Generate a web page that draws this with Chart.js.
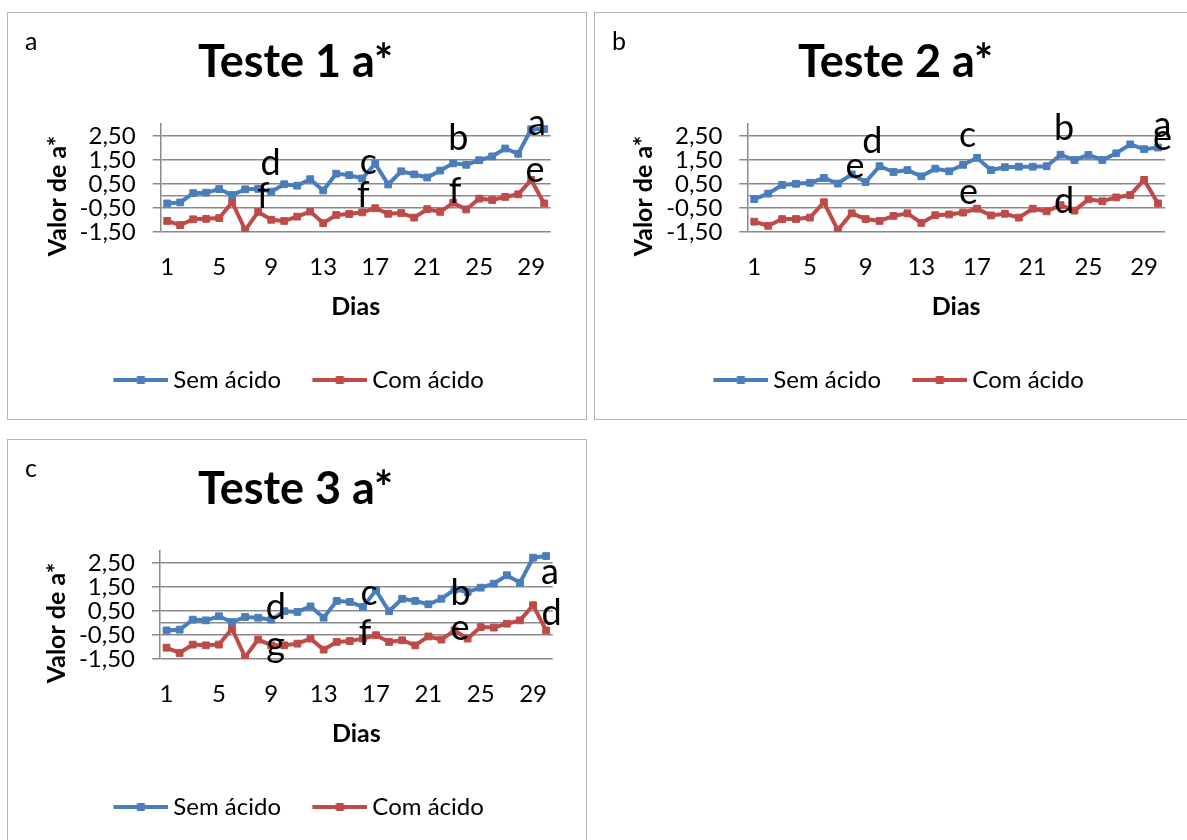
<!DOCTYPE html>
<html>
<head>
<meta charset="utf-8">
<script src="https://cdn.jsdelivr.net/npm/chart.js@4.4.0/dist/chart.umd.min.js"></script>
<style>
  body { margin: 0; background: #fff; width: 1187px; height: 840px; overflow: hidden; position: relative; }
  .panel { position: absolute; border: 1px solid #b4b4b4; background: #fff; overflow: hidden; }
  .panel canvas { position: absolute; left: 0; top: 0; }
</style>
</head>
<body>
<div class="panel" style="left:7px;top:12px;width:578px;height:406px"><canvas id="chartA" width="578" height="406"></canvas></div>
<div class="panel" style="left:594px;top:12px;width:601px;height:406px"><canvas id="chartB" width="601" height="406"></canvas></div>
<div class="panel" style="left:7px;top:439px;width:578px;height:406px"><canvas id="chartC" width="578" height="406"></canvas></div>
<script>
// Days and axis ticks
const days = [1, 2, 3, 4, 5, 6, 7, 8, 9, 10, 11, 12, 13, 14, 15, 16, 17, 18, 19, 20, 21, 22, 23, 24, 25, 26, 27, 28, 29, 30];
const xTicks = [1, 5, 9, 13, 17, 21, 25, 29];
const yTicks = [-1.5, -0.5, 0, 0.5, 1.5, 2.5];

// Teste 1
const semA = [-0.31, -0.27, 0.12, 0.14, 0.29, 0.04, 0.28, 0.30, 0.18, 0.49, 0.43, 0.70, 0.23, 0.93, 0.87, 0.73, 1.35, 0.48, 1.03, 0.90, 0.77, 1.06, 1.36, 1.30, 1.49, 1.65, 1.98, 1.76, 2.78, 2.79];
const comA = [-1.04, -1.21, -0.97, -0.95, -0.92, -0.26, -1.42, -0.66, -0.99, -1.04, -0.86, -0.65, -1.13, -0.79, -0.75, -0.68, -0.51, -0.74, -0.71, -0.90, -0.55, -0.66, -0.28, -0.56, -0.11, -0.17, -0.04, 0.07, 0.67, -0.31];
const lettersA = [['d', 8.96, 0.88], ['f', 8.39, -0.51], ['c', 16.47, 0.92], ['f', 16.08, -0.45], ['b', 23.39, 1.92], ['f', 23.14, -0.30], ['a', 29.45, 2.56], ['e', 29.29, 0.60]];

// Teste 2
const semB = [-0.13, 0.10, 0.46, 0.51, 0.55, 0.75, 0.52, 0.90, 0.58, 1.24, 1.00, 1.08, 0.82, 1.14, 1.03, 1.30, 1.59, 1.08, 1.20, 1.22, 1.22, 1.24, 1.72, 1.50, 1.71, 1.50, 1.78, 2.15, 1.95, 2.02];
const comB = [-1.07, -1.24, -0.96, -0.96, -0.90, -0.26, -1.42, -0.72, -0.96, -1.04, -0.83, -0.72, -1.12, -0.80, -0.77, -0.69, -0.53, -0.81, -0.74, -0.90, -0.53, -0.64, -0.38, -0.61, -0.14, -0.22, -0.06, 0.04, 0.67, -0.31];
const lettersB = [['e', 8.24, 0.74], ['d', 9.48, 1.78], ['c', 16.33, 2.05], ['e', 16.38, -0.35], ['b', 23.25, 2.33], ['d', 23.25, -0.72], ['a', 30.32, 2.47], ['e', 30.32, 1.92]];

// Teste 3
const semC = [-0.31, -0.28, 0.14, 0.11, 0.28, 0.04, 0.25, 0.22, 0.14, 0.49, 0.46, 0.69, 0.22, 0.92, 0.88, 0.67, 1.36, 0.49, 1.01, 0.92, 0.78, 1.01, 1.39, 1.29, 1.47, 1.64, 1.99, 1.68, 2.72, 2.79];
const comC = [-1.03, -1.25, -0.90, -0.93, -0.90, -0.24, -1.42, -0.69, -0.93, -0.93, -0.86, -0.65, -1.11, -0.79, -0.75, -0.65, -0.51, -0.79, -0.72, -0.93, -0.56, -0.69, -0.31, -0.65, -0.17, -0.19, -0.03, 0.11, 0.74, -0.31];
const lettersC = [['d', 9.34, 0.18], ['g', 9.34, -1.42], ['c', 16.47, 0.74], ['f', 16.16, -0.93], ['b', 23.47, 0.74], ['e', 23.42, -0.72], ['a', 30.29, 1.64], ['d', 30.42, -0.10]];

const BLUE = '#4a7ebb';
const RED = '#be4b48';
const GRID = '#8a8a8a';
const FONT = 'Lato';
const ICON_BOX = 54;

// Excel-like legend symbol: a line with a square marker in the middle
function legendIcon(color) {
    const c = document.createElement('canvas');
    c.width = ICON_BOX + 14;
    c.height = 14;
    const g = c.getContext('2d');
    const x0 = ICON_BOX - 41, x1 = ICON_BOX + 14;
    g.strokeStyle = color;
    g.lineWidth = 4;
    g.beginPath();
    g.moveTo(x0, 7);
    g.lineTo(x1, 7);
    g.stroke();
    g.fillStyle = color;
    const mid = (x0 + x1) / 2;
    g.fillRect(mid - 4, 3, 8, 8);
    return c;
}
const icons = [legendIcon(BLUE), legendIcon(RED)];

// panel letter, significance letters and the y axis title
const lettersPlugin = {
    id: 'letters',
    afterDraw(chart, args, opts) {
        const {ctx, chartArea, scales: {x, y}} = chart;
        ctx.save();
        ctx.fillStyle = '#000';
        ctx.textBaseline = 'alphabetic';
        ctx.textAlign = 'left';
        ctx.font = '25px ' + FONT;
        ctx.fillText(opts.tag, 17, 37);
        ctx.textAlign = 'center';
        ctx.font = '36px ' + FONT;
        opts.marks.forEach(m => {
            ctx.fillText(m[0], x.getPixelForValue(m[1]), y.getPixelForValue(m[2]));
        });
        ctx.translate(chartArea.left - 103, chartArea.top + 72);
        ctx.rotate(-Math.PI / 2);
        ctx.textBaseline = 'middle';
        ctx.font = 'bold 25px ' + FONT;
        ctx.fillText('Valor de a*', 0, 0);
        ctx.restore();
    }
};

function makePanel(id, title, sem, com, marks, tag, pad) {
    const ctx = document.getElementById(id).getContext('2d');
    return new Chart(ctx, {
        type: 'line',
        data: {
            labels: days,
            datasets: [{
                label: 'Sem ácido',
                data: sem,
                borderColor: BLUE,
                backgroundColor: BLUE,
                borderWidth: 4,
                pointStyle: 'rect',
                pointRadius: 4.8,
                pointBorderWidth: 1,
                tension: 0
            }, {
                label: 'Com ácido',
                data: com,
                borderColor: RED,
                backgroundColor: RED,
                borderWidth: 4,
                pointStyle: 'rect',
                pointRadius: 4.8,
                pointBorderWidth: 1,
                tension: 0
            }]
        },
        options: {
            responsive: false,
            animation: false,
            layout: {
                padding: {left: pad.left, right: pad.right, top: 0, bottom: 17}
            },
            plugins: {
                title: {
                    display: true,
                    text: title,
                    color: '#000',
                    font: {family: FONT, size: 45, weight: 'bold'},
                    padding: {top: 22.2, bottom: 34.8}
                },
                legend: {
                    position: 'bottom',
                    labels: {
                        usePointStyle: true,
                        pointStyleWidth: ICON_BOX,
                        padding: 25.3,
                        color: '#000',
                        font: {family: FONT, size: 24},
                        generateLabels: chart => Chart.defaults.plugins.legend.labels.generateLabels(chart)
                            .map((item, i) => Object.assign(item, {pointStyle: icons[i]}))
                    }
                },
                tooltip: {enabled: false},
                letters: {tag: tag, marks: marks}
            },
            scales: {
                x: {
                    type: 'linear',
                    min: 0.5,
                    max: 30.5,
                    afterBuildTicks: scale => {
                        scale.ticks = xTicks.map(v => ({value: v}));
                    },
                    afterFit: scale => {
                        scale.height = 110.7;
                    },
                    grid: {display: false, drawTicks: false},
                    border: {display: false},
                    ticks: {
                        padding: 21.1,
                        color: '#000',
                        font: {family: FONT, size: 24},
                        maxRotation: 0,
                        autoSkip: false,
                        callback: v => String(v)
                    },
                    title: {
                        display: true,
                        text: 'Dias',
                        color: '#000',
                        font: {family: FONT, size: 25, weight: 'bold'},
                        padding: {top: 0, bottom: 21}
                    }
                },
                y: {
                    min: -1.5,
                    max: 3,
                    afterBuildTicks: scale => {
                        scale.ticks = yTicks.map(v => ({value: v}));
                    },
                    afterFit: scale => {
                        scale.width = pad.yWidth;
                    },
                    grid: {
                        color: GRID,
                        lineWidth: 1.5,
                        tickLength: 8,
                        tickColor: c => (c.tick && c.tick.value === 0) ? 'rgba(0,0,0,0)' : GRID
                    },
                    border: {color: GRID, width: 1.5},
                    ticks: {
                        padding: 17,
                        autoSkip: false,
                        color: '#000',
                        font: {family: FONT, size: 24},
                        callback: v => v === 0 ? '' : v.toFixed(2).replace('.', ',')
                    }
                }
            }
        },
        plugins: [lettersPlugin]
    });
}

makePanel('chartA', 'Teste 1 a*', semA, comA, lettersA, 'a', {left: 32.5, right: 35.3, yWidth: 120.2});
makePanel('chartB', 'Teste 2 a*', semB, comB, lettersB, 'b', {left: 31.2, right: 31, yWidth: 121.1});
makePanel('chartC', 'Teste 3 a*', semC, comC, lettersC, 'c', {left: 30.5, right: 33.3, yWidth: 121.5});
</script>
</body>
</html>
